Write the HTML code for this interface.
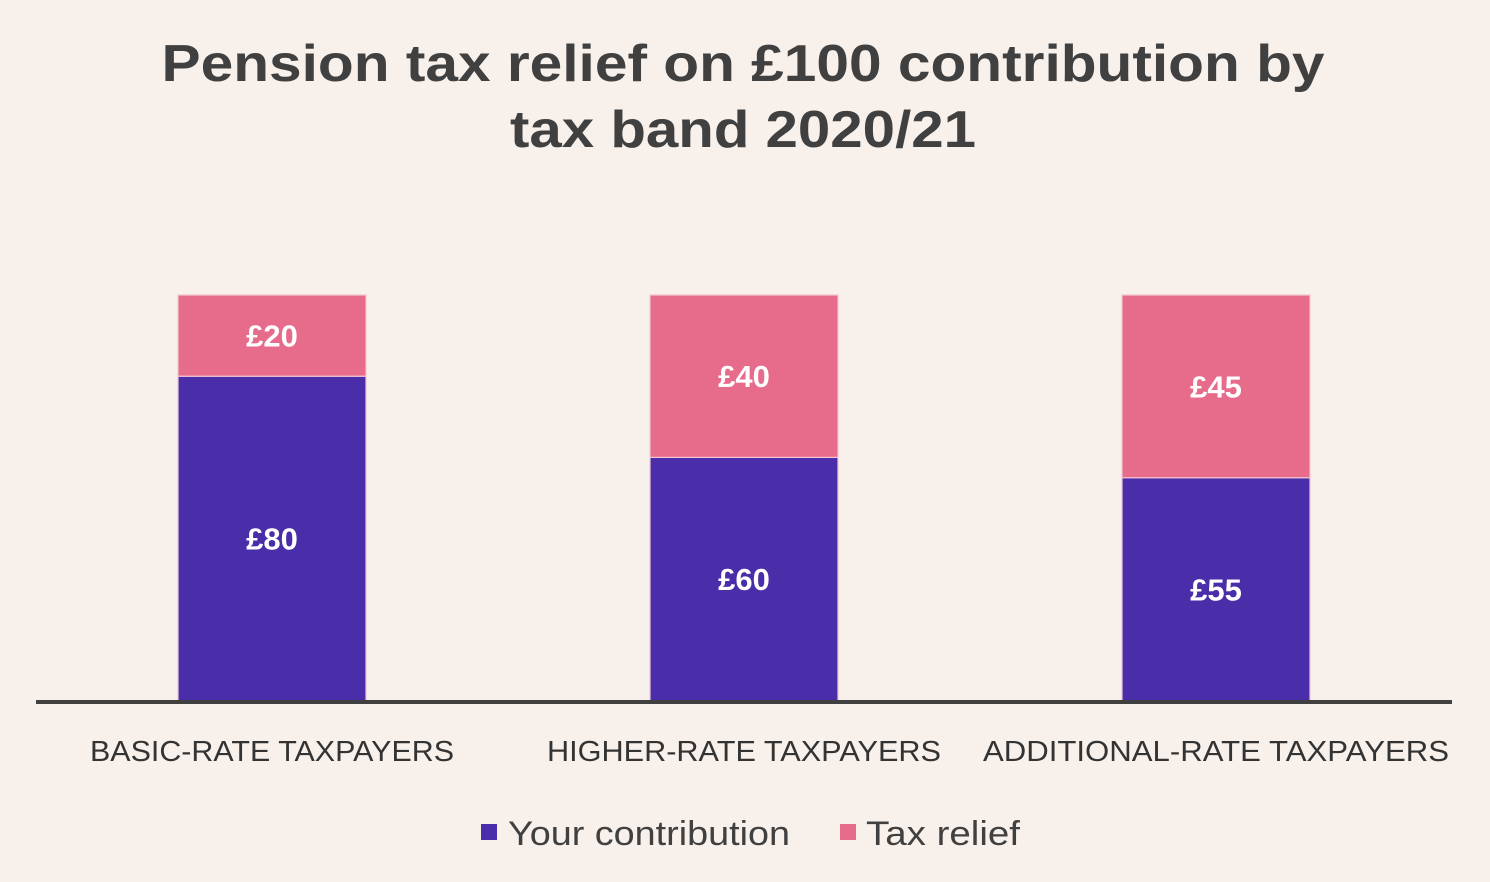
<!DOCTYPE html>
<html><head><meta charset="utf-8"><style>
html,body{margin:0;padding:0;background:#f7f0eb;}
svg{display:block;font-family:"Liberation Sans",sans-serif;}
</style></head><body>
<svg id="chart" width="1490" height="882" viewBox="0 0 1490 882">
<rect width="1490" height="882" fill="#f7f0eb"/>
<text x="743" y="81" text-anchor="middle" font-size="52" font-weight="bold" fill="#404040" textLength="1163" lengthAdjust="spacingAndGlyphs">Pension tax relief on £100 contribution by</text>
<text x="743" y="147" text-anchor="middle" font-size="52" font-weight="bold" fill="#404040" textLength="466" lengthAdjust="spacingAndGlyphs">tax band 2020/21</text>
<g id="bars"></g>
<line x1="36" y1="702" x2="1452" y2="702" stroke="#404040" stroke-width="4"/>
<g id="labels"></g>
<g>
<rect x="481" y="824" width="16" height="16" fill="#4a2da8"/>
<text x="508" y="845" font-size="34" fill="#404040" textLength="282" lengthAdjust="spacingAndGlyphs">Your contribution</text>
<rect x="840" y="824" width="16" height="16" fill="#e76b8a"/>
<text x="866" y="845" font-size="34" fill="#404040" textLength="154" lengthAdjust="spacingAndGlyphs">Tax relief</text>
</g>
</svg>
<script>
const categories = ["BASIC-RATE TAXPAYERS","HIGHER-RATE TAXPAYERS","ADDITIONAL-RATE TAXPAYERS"];
const contribution = [80,60,55];
const taxRelief = [20,40,45];
const contributionLabels = ["£80","£60","£55"];
const reliefLabels = ["£20","£40","£45"];

const NS="http://www.w3.org/2000/svg";
const base=701, pxPerUnit=4.06;
const yScale=v=>base-v*pxPerUnit;
const xCenter=i=>272+i*472;
const barW=188;
const catWidths=[364,394,466];
const bars=document.getElementById('bars');
const labels=document.getElementById('labels');
function mk(tag,attrs,parent){const e=document.createElementNS(NS,tag);for(const k in attrs)e.setAttribute(k,attrs[k]);parent.appendChild(e);return e;}
categories.forEach((c,i)=>{
  const x=xCenter(i)-barW/2;
  const y1=yScale(contribution[i]);
  const r1=mk('rect',{x:x,y:y1,width:barW,height:base-y1,fill:'#4a2da8',stroke:'#f3c6d3','stroke-width':1.2},bars);
  
  
  const y2=yScale(contribution[i]+taxRelief[i]);
  const r2=mk('rect',{x:x,y:y2,width:barW,height:y1-y2,fill:'#e76b8a',stroke:'#f3c6d3','stroke-width':1.2},bars);
  
  
  const t1=mk('text',{x:xCenter(i),y:(y1+base)/2+11,'text-anchor':'middle','font-size':31,'font-weight':'bold',fill:'#fff'},labels);
  t1.textContent=contributionLabels[i];
  
  
  const t2=mk('text',{x:xCenter(i),y:(y1+y2)/2+11,'text-anchor':'middle','font-size':31,'font-weight':'bold',fill:'#fff'},labels);
  t2.textContent=reliefLabels[i];
  
  
  const t3=mk('text',{x:xCenter(i),y:761,'text-anchor':'middle','font-size':29,fill:'#333',textLength:catWidths[i],lengthAdjust:'spacingAndGlyphs'},labels);
  t3.textContent=c;
  
  
});
</script>
</body></html>
